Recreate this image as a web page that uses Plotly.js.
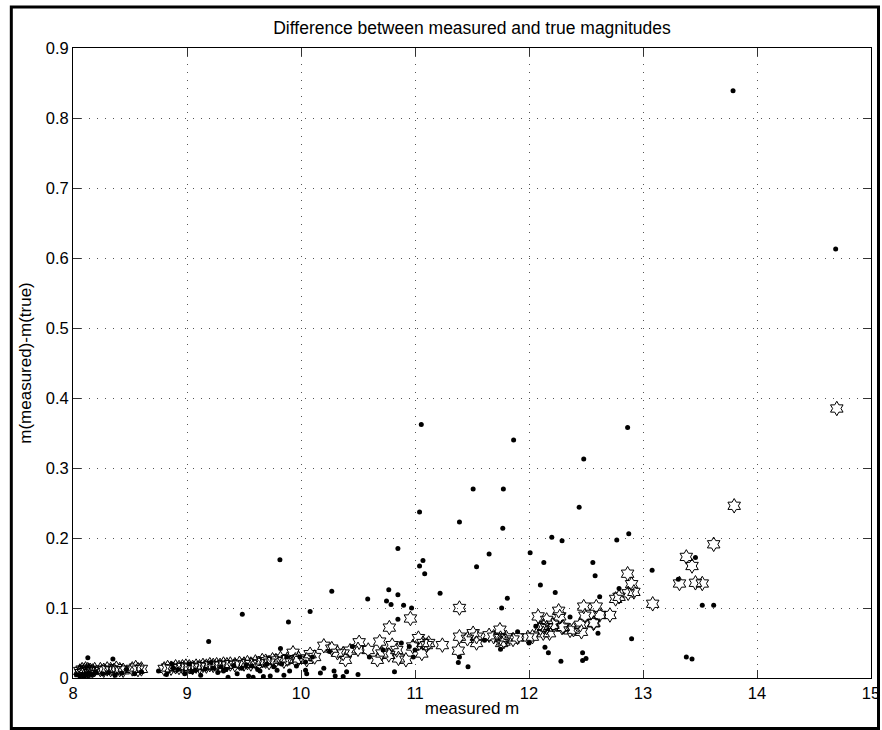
<!DOCTYPE html>
<html>
<head>
<meta charset="utf-8">
<script src="https://cdn.plot.ly/plotly-3.0.1.min.js"></script>
<style>
  html, body { margin: 0; padding: 0; background: #ffffff; }
  #chart { width: 882px; height: 730px; }
</style>
</head>
<body>
<div id="chart"></div>
<script>
// Stars: magnitude offsets of the reference stars (hexagram markers)
const starX = [8.06,8.07,8.08,8.09,8.10,8.11,8.12,8.13,8.14,8.15,8.17,8.19,8.24,8.27,8.30,8.33,8.36,8.38,8.41,8.44,
  8.52,8.55,8.57,8.60,8.80,8.83,8.86,8.90,8.93,8.96,8.99,9.02,9.05,9.08,9.11,9.14,9.17,9.20,9.23,9.26,
  9.29,9.32,9.35,9.38,9.42,9.46,9.50,9.53,9.56,9.60,9.63,9.66,9.69,9.72,9.75,9.78,9.82,9.85,9.88,9.93,
  9.95,9.98,10.05,10.08,10.12,10.20,10.27,10.32,10.37,10.39,10.43,10.50,10.51,10.59,10.67,10.69,10.71,10.77,10.775,10.80,
  10.84,10.855,10.92,10.96,10.98,11.03,11.06,11.07,11.10,11.12,11.24,11.38,11.39,11.39,11.46,11.51,11.54,11.54,11.65,11.69,
  11.745,11.75,11.76,11.78,11.80,11.86,11.90,11.99,12.03,12.08,12.10,12.125,12.13,12.155,12.155,12.18,12.21,12.26,12.27,12.29,
  12.30,12.36,12.39,12.45,12.46,12.48,12.49,12.565,12.57,12.59,12.62,12.71,12.76,12.79,12.865,12.87,12.90,12.92,13.085,13.32,
  13.38,13.43,13.46,13.52,13.62,13.80,14.70];
const starY = [0.010,0.007,0.012,0.008,0.011,0.013,0.009,0.012,0.010,0.011,0.010,0.012,0.012,0.011,0.013,0.012,0.011,0.014,0.012,0.011,
  0.013,0.015,0.012,0.013,0.013,0.015,0.014,0.016,0.015,0.016,0.017,0.016,0.015,0.017,0.016,0.018,0.017,0.019,0.018,0.019,
  0.018,0.020,0.019,0.020,0.019,0.021,0.020,0.022,0.020,0.023,0.021,0.025,0.024,0.022,0.026,0.025,0.028,0.024,0.027,0.036,
  0.026,0.028,0.026,0.034,0.030,0.046,0.042,0.036,0.035,0.026,0.039,0.041,0.051,0.040,0.026,0.052,0.035,0.033,0.072,0.047,
  0.040,0.028,0.026,0.085,0.045,0.057,0.035,0.050,0.047,0.050,0.047,0.039,0.059,0.100,0.056,0.064,0.050,0.059,0.061,0.059,
  0.069,0.057,0.050,0.052,0.058,0.055,0.058,0.058,0.059,0.088,0.071,0.064,0.073,0.083,0.072,0.064,0.076,0.096,0.088,0.072,
  0.073,0.068,0.069,0.076,0.066,0.102,0.089,0.078,0.079,0.102,0.090,0.090,0.113,0.116,0.149,0.121,0.134,0.123,0.106,0.135,
  0.173,0.160,0.136,0.135,0.191,0.246,0.385];

// Dots: all other measured objects
const dotX = [8.03,8.06,8.08,8.10,8.12,8.13,8.14,8.17,8.20,8.26,8.31,8.35,8.37,8.43,8.47,8.54,8.60,8.75,8.82,8.87,
  8.88,8.92,8.98,9.02,9.04,9.07,9.12,9.16,9.19,9.21,9.23,9.27,9.30,9.32,9.34,9.36,9.41,9.44,9.485,9.48,
  9.52,9.54,9.57,9.58,9.62,9.64,9.67,9.70,9.73,9.76,9.79,9.815,9.82,9.83,9.85,9.875,9.89,9.90,9.96,9.99,
  10.04,10.04,10.05,10.08,10.10,10.17,10.20,10.25,10.27,10.29,10.30,10.37,10.40,10.45,10.50,10.585,10.60,10.72,10.75,10.77,
  10.79,10.82,10.85,10.85,10.85,10.88,10.90,10.95,10.97,10.985,11.00,11.04,11.04,11.055,11.07,11.085,11.22,11.38,11.39,11.39,
  11.465,11.51,11.54,11.61,11.65,11.75,11.76,11.77,11.775,11.81,11.865,11.90,12.00,12.01,12.06,12.10,12.13,12.14,12.17,12.20,
  12.23,12.28,12.29,12.36,12.44,12.47,12.47,12.48,12.50,12.56,12.58,12.605,12.62,12.77,12.79,12.865,12.875,12.90,13.08,13.31,
  13.38,13.43,13.46,13.52,13.62,13.79,14.69];
const dotY = [0.005,0.003,0.004,0.002,0.006,0.029,0.007,0.005,0.009,0.006,0.008,0.027,0.004,0.007,0.012,0.006,0.009,0.010,0.005,0.020,
  0.014,0.012,0.006,0.020,0.009,0.011,0.004,0.013,0.052,0.022,0.014,0.008,0.016,0.010,0.012,0.001,0.018,0.006,0.091,0.014,
  0.019,0.003,0.017,0.001,0.012,0.010,0.002,0.020,0.003,0.016,0.011,0.169,0.042,0.020,0.004,0.030,0.080,0.010,0.017,0.030,
  0.011,0.023,0.006,0.095,0.030,0.007,0.014,0.038,0.124,0.010,0.003,0.002,0.009,0.045,0.005,0.113,0.030,0.040,0.110,0.126,
  0.105,0.009,0.084,0.119,0.185,0.050,0.104,0.045,0.100,0.030,0.040,0.160,0.237,0.362,0.168,0.149,0.121,0.022,0.030,0.223,
  0.016,0.270,0.159,0.054,0.177,0.041,0.100,0.214,0.270,0.114,0.340,0.066,0.050,0.179,0.074,0.133,0.165,0.044,0.036,0.201,
  0.122,0.024,0.196,0.087,0.244,0.036,0.025,0.313,0.028,0.165,0.146,0.064,0.116,0.197,0.128,0.358,0.206,0.056,0.154,0.141,
  0.030,0.027,0.172,0.104,0.104,0.839,0.613];

const xTicks = [8, 9, 10, 11, 12, 13, 14, 15];
const yTicks = [0, 0.1, 0.2, 0.3, 0.4, 0.5, 0.6, 0.7, 0.8, 0.9];

const FONT = 'Liberation Sans, Arial, Helvetica, sans-serif';

const traces = [
  {
    type: 'scatter', mode: 'markers', x: starX, y: starY, name: 'stars',
    marker: { symbol: 'hexagram-open', size: 11, color: '#000000', line: { width: 1, color: '#000000' } },
    hoverinfo: 'x+y'
  },
  {
    type: 'scatter', mode: 'markers', x: dotX, y: dotY, name: 'objects',
    marker: { symbol: 'circle', size: 5, color: '#000000', line: { width: 0 } },
    hoverinfo: 'x+y'
  }
];

const axisCommon = {
  showline: true, linecolor: '#000000', linewidth: 1, mirror: 'ticks',
  ticks: 'inside', ticklen: 8, tickwidth: 1, tickcolor: '#333333',
  showgrid: true, gridcolor: '#555555', gridwidth: 1, griddash: '1px,7px',
  zeroline: false, tickfont: { family: FONT, size: 16.5, color: '#000000' },
  fixedrange: true
};

const layout = {
  width: 882, height: 730,
  margin: { l: 73, r: 11, t: 48, b: 52, pad: 0 },
  paper_bgcolor: '#ffffff', plot_bgcolor: '#ffffff',
  showlegend: false,
  font: { family: FONT, size: 16, color: '#000000' },
  title: {
    text: 'Difference between measured and true magnitudes',
    font: { family: FONT, size: 17.5, color: '#000000' },
    xref: 'paper', x: 0.5, xanchor: 'center',
    yref: 'container', y: 1 - 28 / 730, yanchor: 'middle'
  },
  xaxis: Object.assign({}, axisCommon, {
    range: [8, 15], tickvals: xTicks, ticktext: xTicks.map(String),
    title: { text: 'measured m', font: { family: FONT, size: 17, color: '#000000' }, standoff: 1 }
  }),
  yaxis: Object.assign({}, axisCommon, {
    range: [0, 0.9], tickvals: yTicks, ticktext: yTicks.map(String),
    title: { text: 'm(measured)-m(true)', font: { family: FONT, size: 17, color: '#000000' }, standoff: 9 }
  }),
  shapes: [
    // figure frame around the whole chart
    { type: 'rect', xref: 'paper', yref: 'paper',
      x0: -0.0773, x1: 1.0094, y0: -0.0802, y1: 1.0651,
      line: { color: '#000000', width: 3 }, fillcolor: 'rgba(0,0,0,0)', layer: 'above' }
  ]
};

Plotly.newPlot('chart', traces, layout, { displayModeBar: false, staticPlot: true });
</script>
</body>
</html>
